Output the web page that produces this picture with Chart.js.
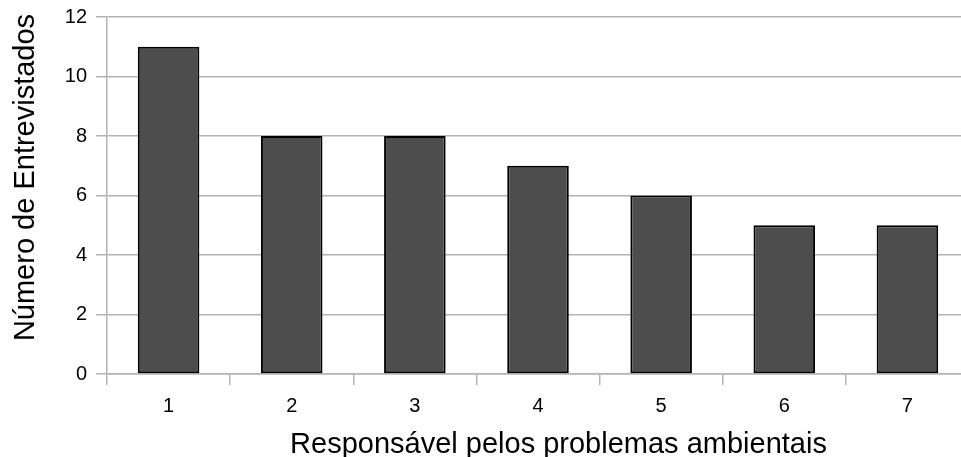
<!DOCTYPE html>
<html>
<head>
<meta charset="utf-8">
<script src="https://cdn.jsdelivr.net/npm/chart.js@4/dist/chart.umd.min.js"></script>
<style>
  html, body { margin: 0; padding: 0; background: #fff; overflow: hidden; }
  canvas { display: block; }
</style>
</head>
<body>
<canvas id="c" width="975" height="457"></canvas>
<script>
// Respondent counts by who they hold responsible for environmental problems
const categories = ["1", "2", "3", "4", "5", "6", "7"];
const respondents = [11, 8, 8, 7, 6, 5, 5];
const yTicks = [0, 2, 4, 6, 8, 10, 12];
const xTitle = "Responsável pelos problemas ambientais";
const yTitle = "Número de Entrevistados";

const gridGray = "#b3b3b3";
const font = "'Liberation Sans', Arial, sans-serif";

// Axis titles, drawn below the category axis and beside the value axis
const axisTitlesPlugin = {
  id: "axisTitles",
  afterDraw(chart) {
    const ctx = chart.ctx;
    ctx.save();
    ctx.font = "29px " + font;
    ctx.fillStyle = "#000";
    ctx.textAlign = "center";
    ctx.textBaseline = "alphabetic";
    ctx.fillText(xTitle, 558.5, 453);
    ctx.translate(34, 177.5);
    ctx.rotate(-Math.PI / 2);
    ctx.fillText(yTitle, 0, 0);
    ctx.restore();
  }
};

new Chart(document.getElementById("c"), {
  type: "bar",
  data: {
    labels: categories,
    datasets: [{
      data: respondents,
      backgroundColor: "#4d4d4d",
      borderColor: "#000000",
      borderWidth: 2,
      borderSkipped: false,
      categoryPercentage: 1,
      barPercentage: 0.5
    }]
  },
  plugins: [axisTitlesPlugin],
  options: {
    responsive: false,
    animation: false,
    layout: { padding: { top: 17, right: 6, left: 0, bottom: 0 } },
    plugins: { legend: { display: false }, tooltip: { enabled: false } },
    scales: {
      x: {
        grid: { offset: true, drawOnChartArea: false, drawTicks: true, tickLength: 11, color: gridGray, lineWidth: 1.5 },
        border: { color: gridGray, width: 1.5 },
        ticks: { color: "#000", font: { family: font, size: 20 }, padding: 9 },
        afterFit: s => { s.height = 457 - 374; s.paddingLeft = 0; s.paddingRight = 0; }
      },
      y: {
        min: 0, max: 12,
        afterBuildTicks: s => { s.ticks = yTicks.map(v => ({ value: v })); },
        grid: { color: gridGray, lineWidth: 1.5, tickLength: 11 },
        border: { color: gridGray, width: 1.5 },
        ticks: { color: "#000", font: { family: font, size: 20 }, padding: 9 },
        afterFit: s => { s.width = 107; s.paddingTop = 0; s.paddingBottom = 0; }
      }
    }
  }
});
</script>
</body>
</html>
